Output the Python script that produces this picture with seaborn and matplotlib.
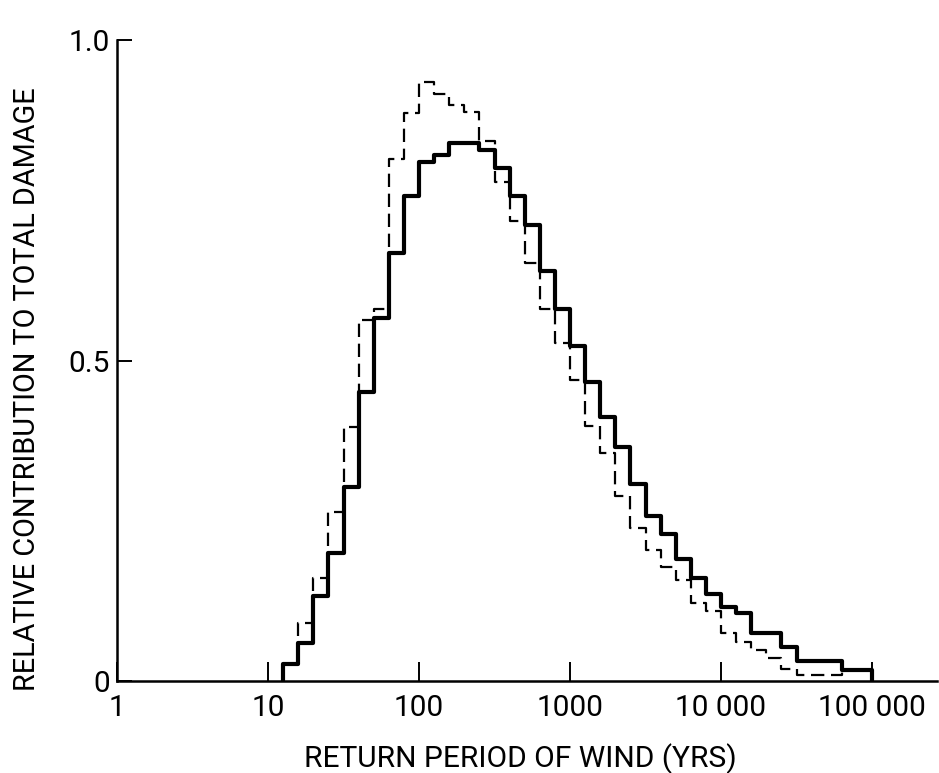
import numpy as np
import pandas as pd
import matplotlib
matplotlib.use("Agg")
import matplotlib.pyplot as plt
import seaborn as sns

# bins are 0.1 decade wide, from 10^1.1 to 10^5
log_edges = np.round(np.arange(1.1, 5.05, 0.1), 1)

# solid curve (heavy line)
solid = [0.027, 0.059, 0.132, 0.200, 0.303, 0.451, 0.566, 0.668, 0.756, 0.810,
         0.820, 0.840, 0.840, 0.829, 0.801, 0.756, 0.712, 0.639, 0.580, 0.522,
         0.467, 0.412, 0.365, 0.307, 0.257, 0.230, 0.190, 0.160, 0.135, 0.116,
         0.106, 0.075, 0.075, 0.053, 0.031, 0.031, 0.031, 0.017, 0.017]

# dashed curve
dashed = [0.027, 0.091, 0.161, 0.263, 0.396, 0.563, 0.580, 0.815, 0.886, 0.934,
          0.916, 0.898, 0.887, 0.842, 0.779, 0.718, 0.652, 0.581, 0.527, 0.469,
          0.398, 0.355, 0.289, 0.238, 0.205, 0.178, 0.158, 0.122, 0.109, 0.075,
          0.061, 0.049, 0.036, 0.018, 0.010, 0.010, 0.010, 0.017, 0.017]

xticks = [1, 10, 100, 1000, 10000, 100000]
xtick_labels = ['1', '10', '100', '1000', '10 000', '100 000']
yticks = [0, 0.5, 1.0]
ytick_labels = ['0', '0.5', '1.0']


def step_frame(values):
    edges = 10 ** log_edges
    x = np.concatenate([[edges[0]], edges])
    y = np.concatenate([[0.0], values, [0.0]])
    return pd.DataFrame({'period': x, 'contribution': y})


sns.set_theme(style='ticks')
plt.rcParams['font.family'] = ['Roboto', 'DejaVu Sans']
plt.rcParams['text.color'] = 'black'
plt.rcParams['axes.labelcolor'] = 'black'
plt.rcParams['xtick.color'] = 'black'
plt.rcParams['ytick.color'] = 'black'

fig = plt.figure(figsize=(9.39, 7.73), dpi=100)
ax = fig.add_axes([117 / 939, 1 - 681 / 773, 820 / 939, 641 / 773])
ax.set_xscale('log')

sns.lineplot(data=step_frame(dashed), x='period', y='contribution', ax=ax,
             estimator=None, sort=False, drawstyle='steps-post',
             color='black', linewidth=1.6, linestyle=(0, (6, 3)))
sns.lineplot(data=step_frame(solid), x='period', y='contribution', ax=ax,
             estimator=None, sort=False, drawstyle='steps-post',
             color='black', linewidth=3.0)

ax.set_xlim(1, 10 ** 5.43)
ax.set_ylim(0, 1.0)

ax.set_xticks(xticks)
ax.set_xticklabels(xtick_labels)
ax.xaxis.set_minor_locator(matplotlib.ticker.NullLocator())
ax.set_yticks(yticks)
ax.set_yticklabels(ytick_labels)

ax.tick_params(axis='x', direction='in', length=14, width=1.4, pad=9,
               labelsize=21.5)
ax.tick_params(axis='y', direction='in', length=11, width=1.4, pad=5,
               labelsize=21.5)

sns.despine(ax=ax)
for side in ['left', 'bottom']:
    ax.spines[side].set_linewidth(1.8)
    ax.spines[side].set_color('black')

ax.set_xlabel('RETURN PERIOD OF WIND (YRS)', fontsize=21.5, labelpad=15.5)
ax.xaxis.label.set_x(0.4915)
ax.set_ylabel('RELATIVE CONTRIBUTION TO TOTAL DAMAGE', fontsize=20.8)
ax.yaxis.set_label_coords(-0.093, 0.455)

fig.savefig('out.png', dpi=100)
